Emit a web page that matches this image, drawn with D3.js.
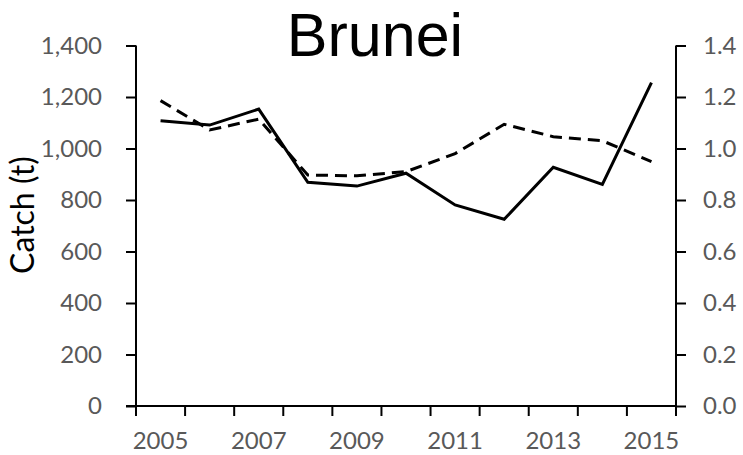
<!DOCTYPE html>
<html>
<head>
<meta charset="utf-8">
<script src="https://cdn.jsdelivr.net/npm/d3@7"></script>
<style>
  body { margin: 0; background: #fff; }
  svg { display: block; }
</style>
</head>
<body>
<div id="chart"></div>
<script>
// values
const years = [2005, 2006, 2007, 2008, 2009, 2010, 2011, 2012, 2013, 2014, 2015];
const catchT = [1108, 1091, 1153, 869, 854, 904, 781, 725, 927, 861, 1256];
const indexVal = [1.186, 1.072, 1.114, 0.897, 0.894, 0.910, 0.980, 1.094, 1.046, 1.030, 0.949];
const leftTicks = [0, 200, 400, 600, 800, 1000, 1200, 1400];
const rightTicks = [0, 0.2, 0.4, 0.6, 0.8, 1.0, 1.2, 1.4];
const yearLabels = [2005, 2007, 2009, 2011, 2013, 2015];

const width = 743, height = 455;
const margin = {left: 136, right: 67, top: 45.5, bottom: 49};

const svg = d3.select("#chart").append("svg")
    .attr("width", width)
    .attr("height", height);

const x = d3.scaleBand()
    .domain(years)
    .range([margin.left, width - margin.right])
    .padding(0);

const yL = d3.scaleLinear()
    .domain([0, 1400])
    .range([height - margin.bottom, margin.top]);

const yR = d3.scaleLinear()
    .domain([0, 1.4])
    .range([height - margin.bottom, margin.top]);

const tickFont = "Lato, 'Open Sans', sans-serif";

// left axis
const gl = svg.append("g")
    .attr("transform", `translate(${margin.left},0)`)
    .call(d3.axisLeft(yL).tickValues(leftTicks).tickSize(10).tickPadding(24)
      .tickFormat(d3.format(",")).tickSizeOuter(0));

// right axis
const gr = svg.append("g")
    .attr("transform", `translate(${width - margin.right},0)`)
    .call(d3.axisRight(yR).tickValues(rightTicks).tickSize(10).tickPadding(17)
      .tickFormat(d3.format(".1f")).tickSizeOuter(0));

// bottom axis: ticks at the band edges, labels in the middle of every other band
const edges = years.map(d => x(d)).concat([x.range()[1]]);
const gb = svg.append("g")
    .attr("transform", `translate(0,${height - margin.bottom})`);
gb.append("line")
    .attr("x1", x.range()[0] - 10).attr("x2", x.range()[1])
    .attr("stroke", "#000").attr("stroke-width", 2);
gb.selectAll(".tk").data(edges).enter().append("line")
    .attr("class", "tk")
    .attr("x1", d => d).attr("x2", d => d)
    .attr("y1", 0).attr("y2", 10)
    .attr("stroke", "#000").attr("stroke-width", 2);
gb.selectAll("text").data(yearLabels).enter().append("text")
    .attr("x", d => x(d) + x.bandwidth() / 2)
    .attr("y", 43)
    .attr("text-anchor", "middle")
    .attr("fill", "#595959")
    .style("font", `24px ${tickFont}`)
    .text(d => d);

[gl, gr].forEach(g => {
  g.select(".domain").attr("stroke", "#000").attr("stroke-width", 2);
  g.selectAll(".tick line").attr("stroke", "#000").attr("stroke-width", 2);
  g.selectAll(".tick text")
      .attr("fill", "#595959")
      .style("font", `24px ${tickFont}`);
});
// axis lines reach down to the x axis ticks
gl.select(".domain").attr("d", `M0,${yL(1400)}V${yL(0) + 10}`);
gr.select(".domain").attr("d", `M0,${yR(1.4)}V${yR(0) + 10}`);

const cx = d => x(d) + x.bandwidth() / 2;

// catch line (left axis)
svg.append("path")
    .datum(years.map((d, i) => [d, catchT[i]]))
    .attr("fill", "none")
    .attr("stroke", "#000")
    .attr("stroke-width", 3)
    .attr("stroke-linejoin", "miter")
    .attr("d", d3.line().x(d => cx(d[0])).y(d => yL(d[1])));

// dashed line (right axis)
svg.append("path")
    .datum(years.map((d, i) => [d, indexVal[i]]))
    .attr("fill", "none")
    .attr("stroke", "#000")
    .attr("stroke-width", 3)
    .attr("stroke-dasharray", "12,7")
    .attr("d", d3.line().x(d => cx(d[0])).y(d => yR(d[1])));

// title
svg.append("text")
    .attr("x", 375)
    .attr("y", 56)
    .attr("text-anchor", "middle")
    .style("font", "61px 'Liberation Sans', Arial, sans-serif")
    .attr("fill", "#000")
    .text("Brunei");

// y label
svg.append("text")
    .attr("transform", `translate(34,215) rotate(-90)`)
    .attr("text-anchor", "middle")
    .style("font", `32px ${tickFont}`)
    .attr("fill", "#000")
    .text("Catch (t)");
</script>
</body>
</html>
